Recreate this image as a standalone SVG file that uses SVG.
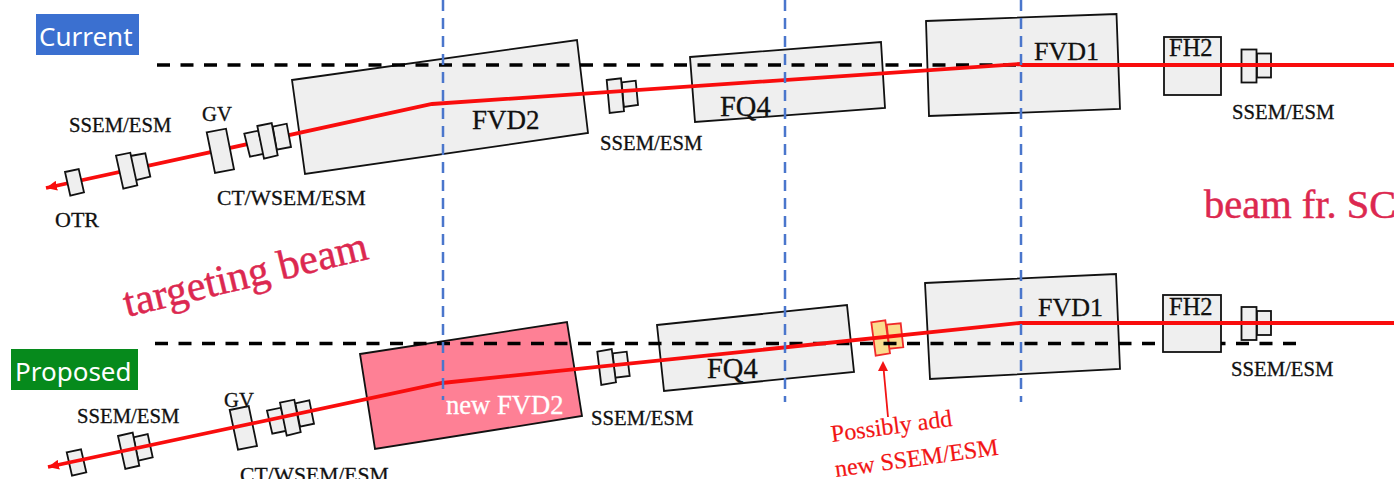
<svg xmlns="http://www.w3.org/2000/svg" width="1394" height="479" viewBox="0 0 1394 479">
<defs>
<style>
text{font-family:"Liberation Serif","Times New Roman",serif;fill:#111;stroke:#111;stroke-width:.3}
.m{fill:#efefef;stroke:#111;stroke-width:1.8}
.d{fill:#efefef;stroke:#111;stroke-width:1.8}
.lb{font-size:20.7px}
.lw{font-size:21.6px}
.mag{font-size:27px}
.fh{font-size:24.5px}
.fq{font-size:28.5px}
.blk{fill:none;stroke:#000;stroke-width:3.4;stroke-dasharray:13 10.5}
.blue{fill:none;stroke:#4a76cc;stroke-width:2.5;stroke-dasharray:11 7}
.beam{fill:none;stroke:#f90d0d;stroke-width:3.8}
.tag{font-family:"Noto Sans","Open Sans",sans-serif;fill:#fff;stroke:none;font-size:26px}
.pink{fill:#dc2850;stroke:#dc2850;stroke-width:.5}
.note{fill:#f21414;stroke:#f21414;stroke-width:.2;font-size:24px}
.y{fill:#fbdc8e;stroke:#f02a2a;stroke-width:1.8}
</style>
<marker id="ah" markerUnits="userSpaceOnUse" markerWidth="12" markerHeight="10" refX="11" refY="5" orient="auto"><path d="M0 0L11 5L0 10Z" fill="#f90d0d"/></marker>
</defs>
<rect width="1394" height="479" fill="#fff"/>
<g id="tag-current"><rect x="36" y="14" width="103" height="41" fill="#3b70d0"/><text class="tag" x="39" y="46">Current</text></g>
<g id="tag-proposed"><rect x="11" y="349" width="127" height="41" fill="#068a1c"/><text class="tag" x="15" y="381">Proposed</text></g>
<g id="top-fvd2"><polygon class="m" points="292,80 577,40 588,133 305,174"/><text class="mag" x="472" y="129">FVD2</text></g>
<g id="top-fq4"><polygon class="m" points="690,57 881,42 885,108 695,122"/><text class="fq" x="720" y="116">FQ4</text></g>
<g id="top-fvd1"><polygon class="m" points="926,21 1116.500,14 1120,109 929,116"/><text class="mag" style="font-size:26px" x="1034" y="60">FVD1</text></g>
<g id="top-fh2"><rect class="m" x="1164" y="37" width="57" height="58"/><text class="fh" x="1169" y="56">FH2</text></g>
<g id="bottom-fvd2"><polygon points="360,354 567,322 582,416 375,449" fill="#fe8095" stroke="#111" stroke-width="1.8"/></g>
<g id="bottom-fq4"><polygon class="m" points="657,325 847,305 854,372 664,391"/><text class="fq" x="707" y="378">FQ4</text></g>
<g id="bottom-fvd1"><polygon class="m" points="925,283 1116,274 1120,369 930,379"/><text class="mag" style="font-size:26px" x="1038" y="316">FVD1</text></g>
<g id="top-ssem-2"><polygon class="d" points="621.700,82.300 635.700,80.700 638,105 623.700,107"/><polygon class="d" points="606.700,80 621,78.300 624,111.300 609.700,113"/></g>
<g id="top-ssem-3"><rect class="d" x="1241.500" y="49.500" width="15" height="33"/><rect class="d" x="1257" y="53.500" width="14" height="24"/></g>
<g id="bottom-otr"><polygon class="d" points="66.700,452.300 81,449.300 86.300,472.300 72,475.700"/></g>
<g id="bottom-ssem-1"><polygon class="d" points="133.300,437.300 147.700,434 152.700,457.300 138.300,460.700"/><polygon class="d" points="118,436 132.700,432.700 139.300,465.700 125.300,469"/></g>
<g id="bottom-gv"><polygon class="d" points="229.700,410 248.700,406 257,446 238,449.700"/></g>
<g id="bottom-ct"><polygon class="d" points="267,410.700 281,407.700 286.700,430.700 272.300,433.700"/><polygon class="d" points="295.300,403.300 309.300,400.300 314,423.700 300,426.700"/><polygon class="d" points="280,402.700 294.300,399.700 300.700,432 286.700,435.700"/></g>
<g id="bottom-ssem-2"><polygon class="d" points="612.700,353.300 626.700,351.700 629.700,376 615,377.700"/><polygon class="d" points="597.300,351.700 611.700,349 616,382.300 601.300,385"/></g>
<g id="bottom-ssem-new"><polygon class="y" points="886.700,324.700 900.700,323.300 903.300,347.300 889.300,348.700"/><polygon class="y" points="871.300,322.300 885.300,320.300 890,353.300 875.700,355.700"/></g>
<g id="bottom-ssem-3"><rect class="d" x="1241.500" y="307" width="15" height="33"/><rect class="d" x="1257" y="311" width="14" height="24"/></g>
<g id="bottom-fh2"><rect class="m" x="1163" y="295" width="58" height="57"/><text class="fh" x="1169" y="315">FH2</text></g>
<g id="connectors">
<path class="blk" d="M157 65H1020"/>
<path class="blk" d="M155 343.500H1163"/>
<path class="blk" d="M1296 343.500H1221"/>
<path class="beam" d="M1394 65H1022L1020 64L432 104L46 188" marker-end="url(#ah)"/>
<path class="beam" d="M1394 323H1022L1020 323L442 383L48 467" marker-end="url(#ah)"/>
<path d="M888 417L883.500 368" fill="none" stroke="#f21414" stroke-width="1.8"/>
<path d="M883 361L888 371H878Z" fill="#f21414"/>
<path class="blue" d="M443 0V400"/>
<path class="blue" d="M785 0V402"/>
<path class="blue" d="M1021 0V402"/>
</g>
<g id="top-otr"><polygon class="d" points="65,172 78.700,169 84,192.300 70.300,195.700"/></g>
<g id="top-ssem-1"><polygon class="d" points="130.300,156 145.300,153.300 150.300,176.700 135,180.300"/><polygon class="d" points="116,155.700 130.300,152.700 137.300,185.300 123.300,188.700"/></g>
<g id="top-gv"><polygon class="d" points="206.700,132.300 226,128.700 234,169.300 215,173"/></g>
<g id="top-ct"><polygon class="d" points="244.300,133.700 258.300,130.700 264,153.700 250,156.700"/><polygon class="d" points="272.700,126.700 286.700,123.700 291,147 276.700,149.700"/><polygon class="d" points="257.300,126 271.700,123 277.700,155.300 264,158.700"/></g>
<g id="labels">
<text class="lb" x="69" y="132">SSEM/ESM</text>
<text class="lb" x="202" y="121">GV</text>
<text class="lw" x="217" y="205">CT/WSEM/ESM</text>
<text class="lb" style="font-size:22px" x="55" y="227">OTR</text>
<text class="lb" x="600" y="150">SSEM/ESM</text>
<text class="lb" x="1232" y="119">SSEM/ESM</text>
<text class="lb" x="77" y="423">SSEM/ESM</text>
<text class="lb" x="224" y="407">GV</text>
<text class="lw" x="240" y="482">CT/WSEM/ESM</text>
<text class="lb" x="591" y="425">SSEM/ESM</text>
<text class="lb" x="1231" y="376">SSEM/ESM</text>
<text x="446" y="414" style="fill:#fff;stroke:#fff;font-size:26.600px">new FVD2</text>
<text class="pink" style="font-size:40.500px" x="1204" y="218">beam fr. SC</text>
<text class="pink" style="font-size:42px" transform="translate(127 317) rotate(-13.500)">targeting beam</text>
<text class="note" transform="translate(832 442) rotate(-7.600)">Possibly add</text>
<text class="note" transform="translate(836 477) rotate(-7.800)">new SSEM/ESM</text>
</g>
</svg>
